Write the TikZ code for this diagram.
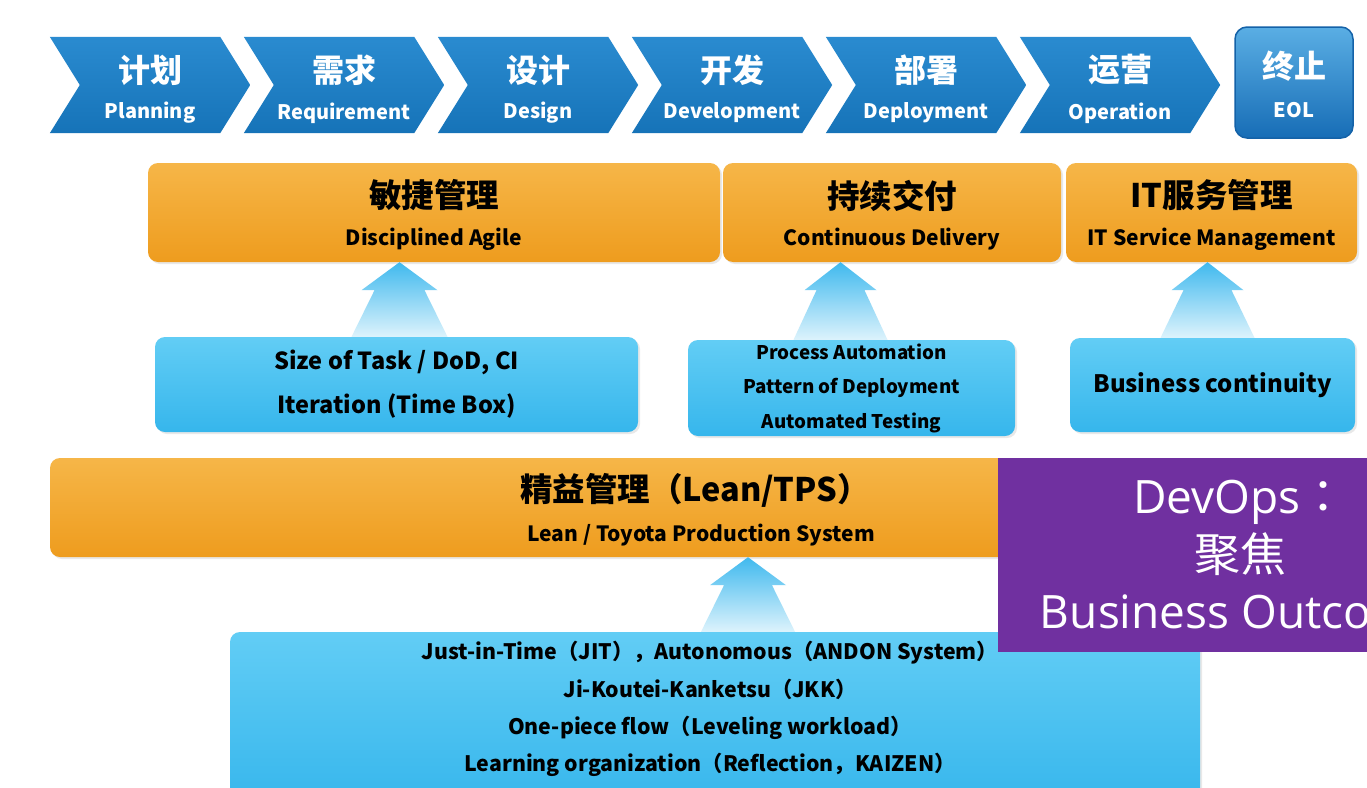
\documentclass[tikz,border=0pt]{standalone}
\usepackage{fontspec}
\setmainfont{Noto Sans CJK SC}
\newfontfamily\osans{Open Sans}
\newfontfamily\cjkreg{Noto Sans CJK SC}
\newfontfamily\cjktc{Noto Sans CJK TC}
\usetikzlibrary{calc,shadows}
\definecolor{chevtop}{HTML}{2A8BD0}
\definecolor{chevbot}{HTML}{1673B8}
\definecolor{orgtop}{HTML}{F6B648}
\definecolor{orgbot}{HTML}{EE9C1E}
\definecolor{blutop}{HTML}{62CDF5}
\definecolor{blubot}{HTML}{36B6EC}
\definecolor{arrtop}{HTML}{40B9EE}
\definecolor{arrbot}{HTML}{DDF3FC}
\definecolor{purp}{HTML}{7030A0}
\definecolor{eoltop}{HTML}{5AAEE4}
\definecolor{eolbot}{HTML}{176DB6}
\definecolor{eoledge}{HTML}{1462A8}
\begin{document}
\begin{tikzpicture}[x=1pt,y=-1pt,
  chevbox/.style={minimum width=140pt, minimum height=96pt, inner sep=0pt},
  chevshade/.style={top color=chevtop, bottom color=chevbot},
  zhw/.style={text=white, font=\bfseries\fontsize{32}{32}\selectfont, inner sep=0pt},
  enw/.style={text=white, font=\bfseries\fontsize{20}{20}\selectfont, inner sep=0pt},
  orgbox/.style={rounded corners=10pt, top color=orgtop, bottom color=orgbot, inner sep=0pt,
     drop shadow={opacity=0.18, shadow xshift=2pt, shadow yshift=-2pt}},
  blubox/.style={rounded corners=10pt, top color=blutop, bottom color=blubot, inner sep=0pt,
     drop shadow={opacity=0.18, shadow xshift=2pt, shadow yshift=-2pt}},
  title/.style={text=black, font=\bfseries\fontsize{32.5}{32.5}\selectfont, inner sep=0pt},
  subt/.style={text=black, font=\bfseries\fontsize{21}{21}\selectfont, inner sep=0pt},
  uparrow/.style={top color=arrtop, bottom color=arrbot},
]
\useasboundingbox (0,0) rectangle (1367,787);
\fill[white] (0,0) rectangle (1367,787);
\clip (0,0) rectangle (1367,787);

% chevrons
\foreach \i/\cx/\zh/\en in {1/150/计划/Planning,2/344/需求/Requirement,3/538/设计/Design,4/732/开发/Development,5/926/部署/Deployment,6/1120/运营/Operation}{
  \node[chevbox] (c\i) at (\cx,85) {};
  \shade[chevshade] ([xshift=-30pt]c\i.north west) -- (c\i.north east) -- ([xshift=30pt]c\i.east)
     -- (c\i.south east) -- ([xshift=-30pt]c\i.south west) -- (c\i.west) -- cycle;
  \node[zhw] (c\i zh) at ([yshift=15pt]c\i.center) {\zh};
  \node[enw] (c\i en) at ([yshift=-28pt]c\i.center) {\en};
}

% EOL
\node[rounded corners=12pt, top color=eoltop, bottom color=eolbot, draw=eoledge, line width=1.5pt,
      minimum width=118pt, minimum height=111pt, inner sep=0pt] (eol) at (1294,82.5) {};
\node[zhw] (eolzh) at ([yshift=16pt]eol.center) {终止};
\node[enw] (eolen) at ([yshift=-28pt]eol.center) {EOL};

% orange boxes
\node[orgbox, minimum width=572pt, minimum height=99pt] (a1) at (434,212.5) {};
\node[title] (a1t) at ([yshift=17pt]a1.center) {敏捷管理};
\node[subt] (a1s) at ([yshift=-27pt]a1.center) {Disciplined Agile};

\node[orgbox, minimum width=338pt, minimum height=99pt] (a2) at (892,212.5) {};
\node[title] (a2t) at ([yshift=17pt]a2.center) {持续交付};
\node[subt] (a2s) at ([yshift=-27pt]a2.center) {Continuous Delivery};

\node[orgbox, minimum width=291pt, minimum height=99pt] (a3) at (1211.5,212.5) {};
\node[title] (a3t) at ([yshift=17pt]a3.center) {IT服务管理};
\node[subt] (a3s) at ([yshift=-27pt]a3.center) {IT Service Management};

% blue sub boxes
\node[blubox, minimum width=483pt, minimum height=95pt, align=center,
      font=\bfseries\fontsize{23.5}{44}\selectfont] (b1) at (396.5,384.5)
      {Size of Task / DoD, CI\\Iteration (Time Box)};
\node[blubox, minimum width=327pt, minimum height=96pt, align=center,
      font=\bfseries\fontsize{18.8}{34.5}\selectfont] (b2) at (851.5,388)
      {Process Automation\\Pattern of Deployment\\Automated Testing};
\node[blubox, minimum width=285pt, minimum height=94pt, align=center,
      font=\bfseries\fontsize{24}{24}\selectfont] (b3) at (1212.5,385)
      {Business continuity};

% lean box
\node[orgbox, minimum width=1307pt, minimum height=99pt] (L) at (703.5,507.5) {};
\node[title] (Lt) at (695,490) {精益管理（Lean/TPS）};
\node[subt] (Ls) at (701,535) {Lean / Toyota Production System};

% bottom box
\node[blubox, minimum width=970pt, minimum height=175pt] (B) at (715,719.5) {};
\node[align=center, font=\bfseries\fontsize{21.3}{37.3}\selectfont, inner sep=0pt] (Bt) at (710,709)
  {Just-in-Time（JIT），Autonomous（ANDON System）\\Ji-Koutei-Kanketsu（JKK）\\One-piece flow（Leveling workload）\\Learning organization（Reflection，KAIZEN）};

% arrows
\shade[uparrow] let \p1=($(b1.north)+(3pt,0)$), \p2=(a1.south) in
  (\x1-48pt,\y1) -- (\x1-25pt,\y2-28pt) -- (\x1-38pt,\y2-28pt) -- (\x1,\y2)
  -- (\x1+38pt,\y2-28pt) -- (\x1+25pt,\y2-28pt) -- (\x1+48pt,\y1) -- cycle;
\shade[uparrow] let \p1=($(b2.north)+(-11pt,0)$), \p2=(a2.south) in
  (\x1-47pt,\y1) -- (\x1-24pt,\y2-28pt) -- (\x1-36pt,\y2-28pt) -- (\x1,\y2)
  -- (\x1+36pt,\y2-28pt) -- (\x1+24pt,\y2-28pt) -- (\x1+47pt,\y1) -- cycle;
\shade[uparrow] let \p1=($(b3.north)+(-5pt,0)$), \p2=(a3.south) in
  (\x1-47pt,\y1) -- (\x1-24pt,\y2-28pt) -- (\x1-36pt,\y2-28pt) -- (\x1,\y2)
  -- (\x1+36pt,\y2-28pt) -- (\x1+24pt,\y2-28pt) -- (\x1+47pt,\y1) -- cycle;
\shade[uparrow] let \p1=($(B.north)+(33pt,0)$), \p2=(L.south) in
  (\x1-47pt,\y1) -- (\x1-24pt,\y2-28pt) -- (\x1-38pt,\y2-28pt) -- (\x1,\y2)
  -- (\x1+38pt,\y2-28pt) -- (\x1+24pt,\y2-28pt) -- (\x1+47pt,\y1) -- cycle;

% purple overlay
\node[fill=purp, minimum width=400pt, minimum height=194pt, inner sep=0pt] (P) at (1198,555) {};
\node[text=white, align=center, font=\osans\fontsize{46}{57.5}\selectfont, inner sep=0pt] (Pt) at (1240,555)
  {DevOps{\cjktc ：}\\{\cjkreg 聚焦}\\Business Outcome};
\end{tikzpicture}
\end{document}
